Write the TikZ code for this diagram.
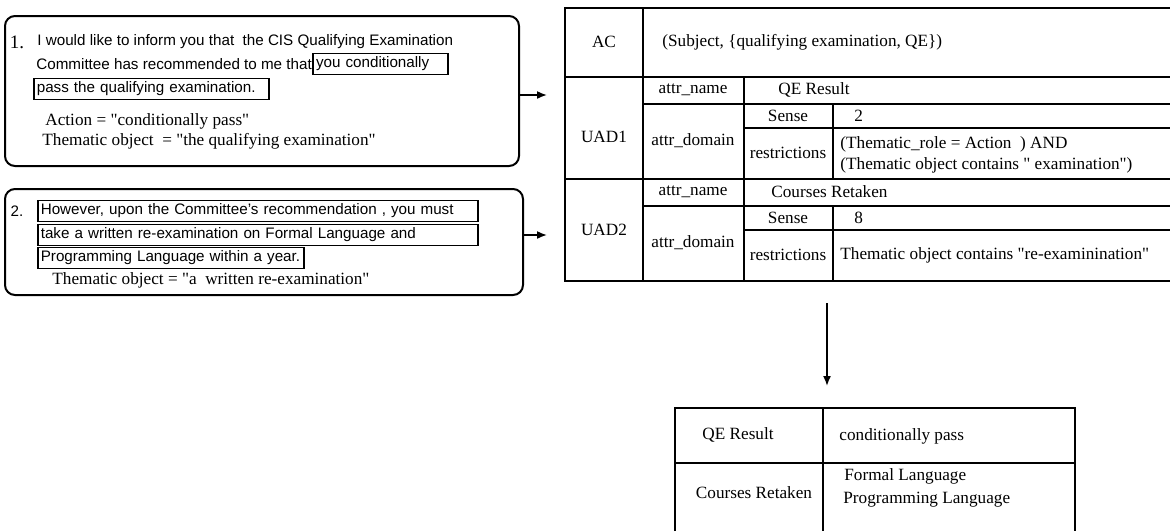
\documentclass[tikz,border=0pt]{standalone}
\usepackage{fontspec}
\setmainfont{Liberation Serif}
\setsansfont{Liberation Sans}
\usetikzlibrary{arrows.meta,positioning}
\newcommand{\sentfont}{\sffamily\fontsize{7.6}{9}\selectfont}
\newcommand{\tabfont}{\rmfamily\fontsize{8.6}{10}\selectfont}
\newcommand{\qd}{\textquotedbl}
\begin{document}
\begin{tikzpicture}[
    x=0.5pt, y=-0.5pt,
    rbox/.style={draw, line width=1pt, rounded corners=5pt, anchor=north west, inner sep=0pt},
    hlbox/.style={draw, line width=0.8pt, anchor=west, inner xsep=1.5pt, inner ysep=1pt, minimum height=10.5pt, align=left, font=\sentfont},
    sent/.style={anchor=west, inner sep=0pt, font=\sentfont},
    lbl/.style={inner sep=0pt, font=\tabfont},
    lbll/.style={lbl, anchor=west},
    grid/.style={line width=1pt},
    arrow/.style={-{Latex[length=5pt,width=4pt]}, line width=0.8pt}
]
    \useasboundingbox (0,0) rectangle (1170,531);

    % sentence 1
    \node [rbox, minimum width=257pt, minimum height=75pt] (ex1) at (4,15) {};
    \node [lbl, font=\rmfamily\fontsize{9.5}{10}\selectfont] (num1) at (17,42) {1.};
    \node [sent] (s1a) at (37,42) {I would like to inform you that\ \ the CIS Qualifying Examination};
    \node [sent] (s1b) at (36,64) {Committee has recommended to me that};
    \node [hlbox, text width=64.5pt, right=0pt of s1b] (h1a) {you conditionally};
    \node [hlbox, text width=114.5pt] (h1b) at (33,89) {pass the qualifying examination.};
    \node [lbll] (act1) at (45,121) {Action = \qd conditionally pass\qd};
    \node [lbll] (obj1) at (42,141) {Thematic object\ \ = \qd the qualifying examination\qd};

    % sentence 2
    \node [rbox, minimum width=259pt, minimum height=53pt] (ex2) at (4,188) {};
    \node [sent, anchor=center] (num2) at (17,211) {2.};
    \node [hlbox, text width=217pt] (h2a) at (37,211) {However, upon the Committee's recommendation , you must};
    \node [hlbox, text width=217pt] (h2b) at (37,235) {take a written re-examination on Formal Language and};
    \node [hlbox, text width=130pt] (h2c) at (37,258) {Programming Language within a year.};
    \node [lbll] (obj2) at (52,280) {Thematic object = \qd a\ \ written re-examination\qd};

    \coordinate (in1) at (547,95);
    \coordinate (in2) at (547,235);
    \draw [arrow] (ex1.east |- in1) -- (in1);
    \draw [arrow] (ex2.east |- in2) -- (in2);

    % frame of the UAD table
    \draw [grid] (1170,8) -- (565,8) -- (565,281) -- (1170,281);
    \draw [grid] (643,8) -- (643,281);
    \draw [grid] (565,77) -- (1170,77);
    \draw [grid] (565,179) -- (1170,179);
    \draw [grid] (744,77) -- (744,281);
    \draw [grid] (643,104) -- (1170,104);
    \draw [grid] (744,128) -- (1170,128);
    \draw [grid] (833,104) -- (833,179);
    \draw [grid] (643,206) -- (1170,206);
    \draw [grid] (744,230) -- (1170,230);
    \draw [grid] (833,206) -- (833,281);

    \node [lbl] (ac) at (604,42) {AC};
    \node [lbll] (acval) at (662,42) {(Subject, \{qualifying examination, QE\})};
    \node [lbl] (uad1) at (604,137) {UAD1};
    \node [lbl] (uad2) at (604,230) {UAD2};
    \node [lbl] (an1) at (693,90) {attr\_name};
    \node [lbl] (ad1) at (693,141) {attr\_domain};
    \node [lbl] (an2) at (693,192) {attr\_name};
    \node [lbl] (ad2) at (693,243) {attr\_domain};
    \node [lbll] (anv1) at (778,90) {QE Result};
    \node [lbl] (se1) at (788,116) {Sense};
    \node [lbll] (sev1) at (854,116) {2};
    \node [lbl] (re1) at (788,153) {restrictions};
    \node [lbll] (rev1a) at (840,144) {(Thematic\_role = Action\ \ ) AND};
    \node [lbll] (rev1b) at (840,165) {(Thematic object contains \qd\ examination\qd)};
    \node [lbll] (anv2) at (771,192) {Courses Retaken};
    \node [lbl] (se2) at (788,218) {Sense};
    \node [lbll] (sev2) at (854,218) {8};
    \node [lbl] (re2) at (788,255) {restrictions};
    \node [lbll] (rev2) at (840,255) {Thematic object contains \qd re-examinination\qd};

    % result table
    \coordinate (dn1) at (827,303);
    \coordinate (dn2) at (827,386);
    \draw [arrow] (dn1) -- (dn2);
    \draw [grid] (675,531) -- (675,408) -- (1075,408) -- (1075,531);
    \draw [grid] (675,463) -- (1075,463);
    \draw [grid] (823,408) -- (823,531);

    \node [lbl] (rk1) at (738,435) {QE Result};
    \node [lbll] (rv1) at (839,436) {conditionally pass};
    \node [lbl] (rk2) at (754,493) {Courses Retaken};
    \node [lbll] (rv2a) at (844,476) {Formal Language};
    \node [lbll] (rv2b) at (843,500) {Programming Language};
\end{tikzpicture}
\end{document}
